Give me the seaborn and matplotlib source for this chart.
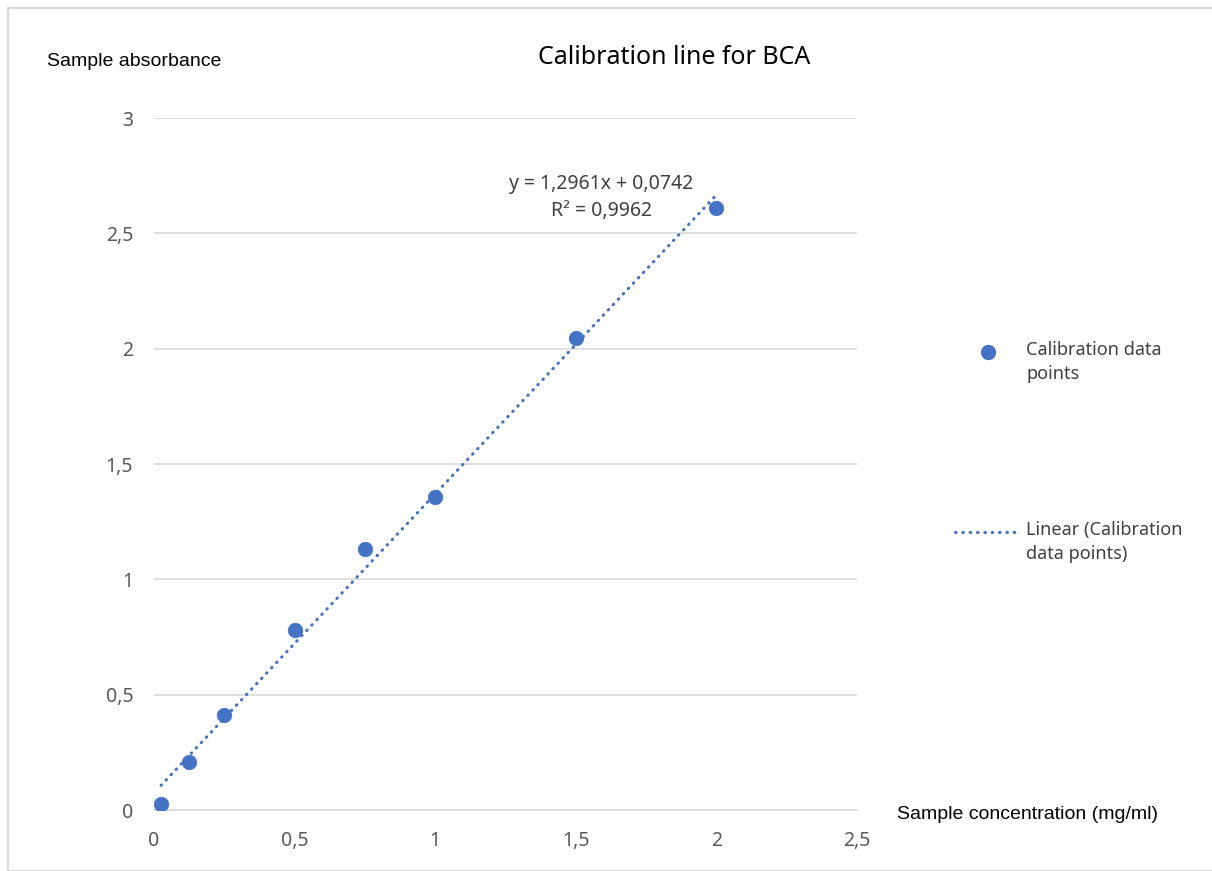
import matplotlib.pyplot as plt
import matplotlib.ticker as mticker
from matplotlib.patches import Rectangle
from matplotlib.lines import Line2D
import pandas as pd
import numpy as np
import seaborn as sns

# calibration data
concentration = [0.025, 0.125, 0.25, 0.5, 0.75, 1.0, 1.5, 2.0]
absorbance = [0.025, 0.21, 0.41, 0.78, 1.13, 1.355, 2.045, 2.61]
slope = 1.2961
intercept = 0.0742
r_squared = 0.9962

x_ticks = [0, 0.5, 1, 1.5, 2, 2.5]
y_ticks = [0, 0.5, 1, 1.5, 2, 2.5, 3]

blue = '#4472C4'
grid_grey = '#d9d9d9'
tick_grey = '#595959'

df = pd.DataFrame({'Concentration': concentration, 'Absorbance': absorbance})
trend = pd.DataFrame({'Concentration': [min(concentration), max(concentration)]})
trend['Absorbance'] = slope * trend['Concentration'] + intercept

sns.set_style('white')
plt.rcParams['font.family'] = ['Noto Sans', 'DejaVu Sans']

fig = plt.figure(figsize=(12.12, 8.71), dpi=100)
ax = fig.add_axes([154/1212, 1 - 810/871, (857-154)/1212, (810-118)/871])

sns.scatterplot(data=df, x='Concentration', y='Absorbance', ax=ax, color=blue,
                s=110, edgecolor=blue, linewidth=0.5, zorder=3, legend=False)
sns.lineplot(data=trend, x='Concentration', y='Absorbance', ax=ax, color=blue,
             linewidth=2.2, zorder=2, legend=False)
dotted = (0, (0.2, 2.2))
ax.lines[-1].set_linestyle(dotted)
ax.lines[-1].set_dash_capstyle('round')

ax.set_xlim(0, 2.5)
ax.set_ylim(0, 3)
ax.set_xticks(x_ticks)
ax.set_yticks(y_ticks)
comma = mticker.FuncFormatter(lambda v, p: f'{v:g}'.replace('.', ','))
ax.xaxis.set_major_formatter(comma)
ax.yaxis.set_major_formatter(comma)
ax.tick_params(axis='both', length=0, labelsize=14, colors=tick_grey)
ax.tick_params(axis='y', pad=15)
ax.tick_params(axis='x', pad=15)
ax.grid(axis='y', color=grid_grey, linewidth=1.2)
ax.set_axisbelow(True)
for s in ['top', 'right', 'left']:
    ax.spines[s].set_visible(False)
ax.spines['bottom'].set_color(grid_grey)
ax.spines['bottom'].set_linewidth(1.2)
ax.set_xlabel('')
ax.set_ylabel('')

# trendline equation
ax.text(1.59, 2.655, f'y = {slope:.4f}x + {intercept:.4f}\nR² = {r_squared:.4f}'.replace('.', ','),
        ha='center', va='center', fontsize=14, color='#404040', linespacing=1.45)

# titles
fig.text(674/1212, 1 - 58/871, 'Calibration line for BCA', ha='center', va='center',
         fontsize=18, color='#000000')
fig.text(47/1212, 1 - 62/871, 'Sample absorbance', ha='left', va='center',
         fontsize=14, family='Liberation Sans', color='#000000')
fig.text(897/1212, 1 - 814/871, 'Sample concentration (mg/ml)', ha='left', va='center',
         fontsize=14, family='Liberation Sans', color='#000000')

# legend, laid out like the spreadsheet one (key beside the first label line)
W, H = 1212, 871
fig.add_artist(Line2D([988/W], [1 - 352/H], marker='o', markersize=10, color=blue,
                      linestyle='none', transform=fig.transFigure))
fig.text(1026/W, 1 - 341/H, 'Calibration data\npoints', ha='left', va='top',
         fontsize=13, color='#404040', linespacing=1.45)
fig.add_artist(Line2D([955/W, 1017/W], [1 - 532/H, 1 - 532/H], color=blue, linewidth=2.2,
                      linestyle=dotted, dash_capstyle='round', transform=fig.transFigure))
fig.text(1026/W, 1 - 521/H, 'Linear (Calibration\ndata points)', ha='left', va='top',
         fontsize=13, color='#404040', linespacing=1.45)

# light border around the chart area
fig.patches.append(Rectangle((8/W, 0), 1, 1 - 8/H, transform=fig.transFigure,
                             fill=False, edgecolor=grid_grey, linewidth=1.5))

fig.savefig('out.png', dpi=100)
